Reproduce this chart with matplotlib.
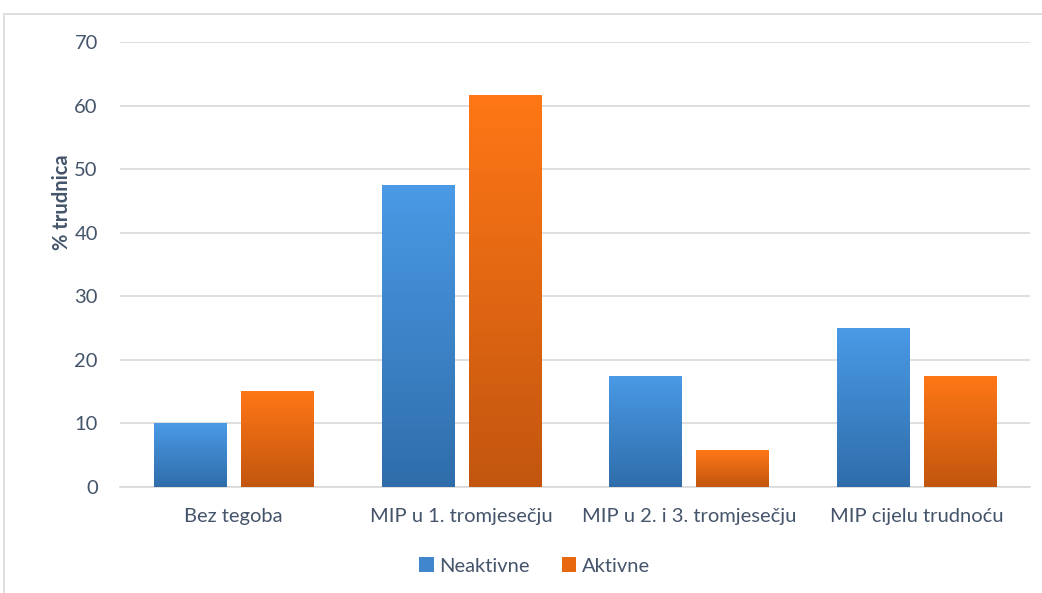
import numpy as np
import matplotlib
matplotlib.use("Agg")
import matplotlib.pyplot as plt
from matplotlib.colors import LinearSegmentedColormap
from matplotlib.patches import Rectangle

categories = ["Bez tegoba", "MIP u 1. tromjesečju", "MIP u 2. i 3. tromjesečju", "MIP cijelu trudnoću"]
neaktivne = [10, 47.5, 17.5, 25]
aktivne = [15.1, 61.7, 5.8, 17.5]
series_names = ["Neaktivne", "Aktivne"]

plt.rcParams['font.family'] = ['Lato', 'DejaVu Sans']
text_color = "#44546A"
fs = 14.5

fig = plt.figure(figsize=(10.42, 5.93), dpi=100)
fig.patches.append(Rectangle((4 / 1042, -0.01), 1.0, 1 - 14 / 593 + 0.01, transform=fig.transFigure,
                             fill=False, edgecolor="#D9D9D9", linewidth=1.2, zorder=0))
ax = fig.add_axes([120 / 1042, 1 - 487 / 593, 910 / 1042, 445 / 593])

blue_cmap = LinearSegmentedColormap.from_list("b", ["#2F6DAA", "#4A9AE6"])
orange_cmap = LinearSegmentedColormap.from_list("o", ["#C2560F", "#FF7716"])

x = np.arange(len(categories))
w = 0.317
off = 0.191


def gradient_bars(xs, vals, cmap, base_color, label):
    bars = ax.bar(xs, vals, w, color=base_color, label=label, zorder=2)
    grad = np.linspace(0, 1, 256).reshape(-1, 1)
    for b in bars:
        x0, y0 = b.get_x(), b.get_y()
        im = ax.imshow(grad, cmap=cmap, origin="lower", aspect="auto",
                       extent=[x0, x0 + b.get_width(), y0, y0 + b.get_height()], zorder=3)
        im.set_clip_path(b)
    return bars


gradient_bars(x - off, neaktivne, blue_cmap, "#3F86CC", series_names[0])
gradient_bars(x + off, aktivne, orange_cmap, "#E8680F", series_names[1])

ax.set_xlim(-0.5, len(categories) - 0.5)
ax.set_ylim(0, 70)
ax.set_yticks(range(0, 71, 10))
ax.set_xticks(x)
ax.set_xticklabels(categories)
ax.grid(axis="y", color="#D9D9D9", linewidth=1.2, zorder=0)
ax.set_axisbelow(True)
for s in ["top", "right", "left"]:
    ax.spines[s].set_visible(False)
ax.spines["bottom"].set_color("#D9D9D9")
ax.spines["bottom"].set_linewidth(1.2)
ax.tick_params(axis="both", length=0, labelsize=fs, colors=text_color)
ax.tick_params(axis="x", pad=15)
ax.tick_params(axis="y", pad=16)
ax.set_ylabel("% trudnica", fontsize=fs, fontweight="bold", color=text_color, labelpad=2, y=0.64)

handles, labels = ax.get_legend_handles_labels()
fig.legend(handles, labels, loc="center", bbox_to_anchor=(535 / 1042, 1 - 566 / 593), ncol=2,
           frameon=False, fontsize=fs, labelcolor=text_color, handlelength=0.7, handleheight=0.7,
           handletextpad=0.3, columnspacing=1.6)

fig.savefig("out.png", dpi=100)
